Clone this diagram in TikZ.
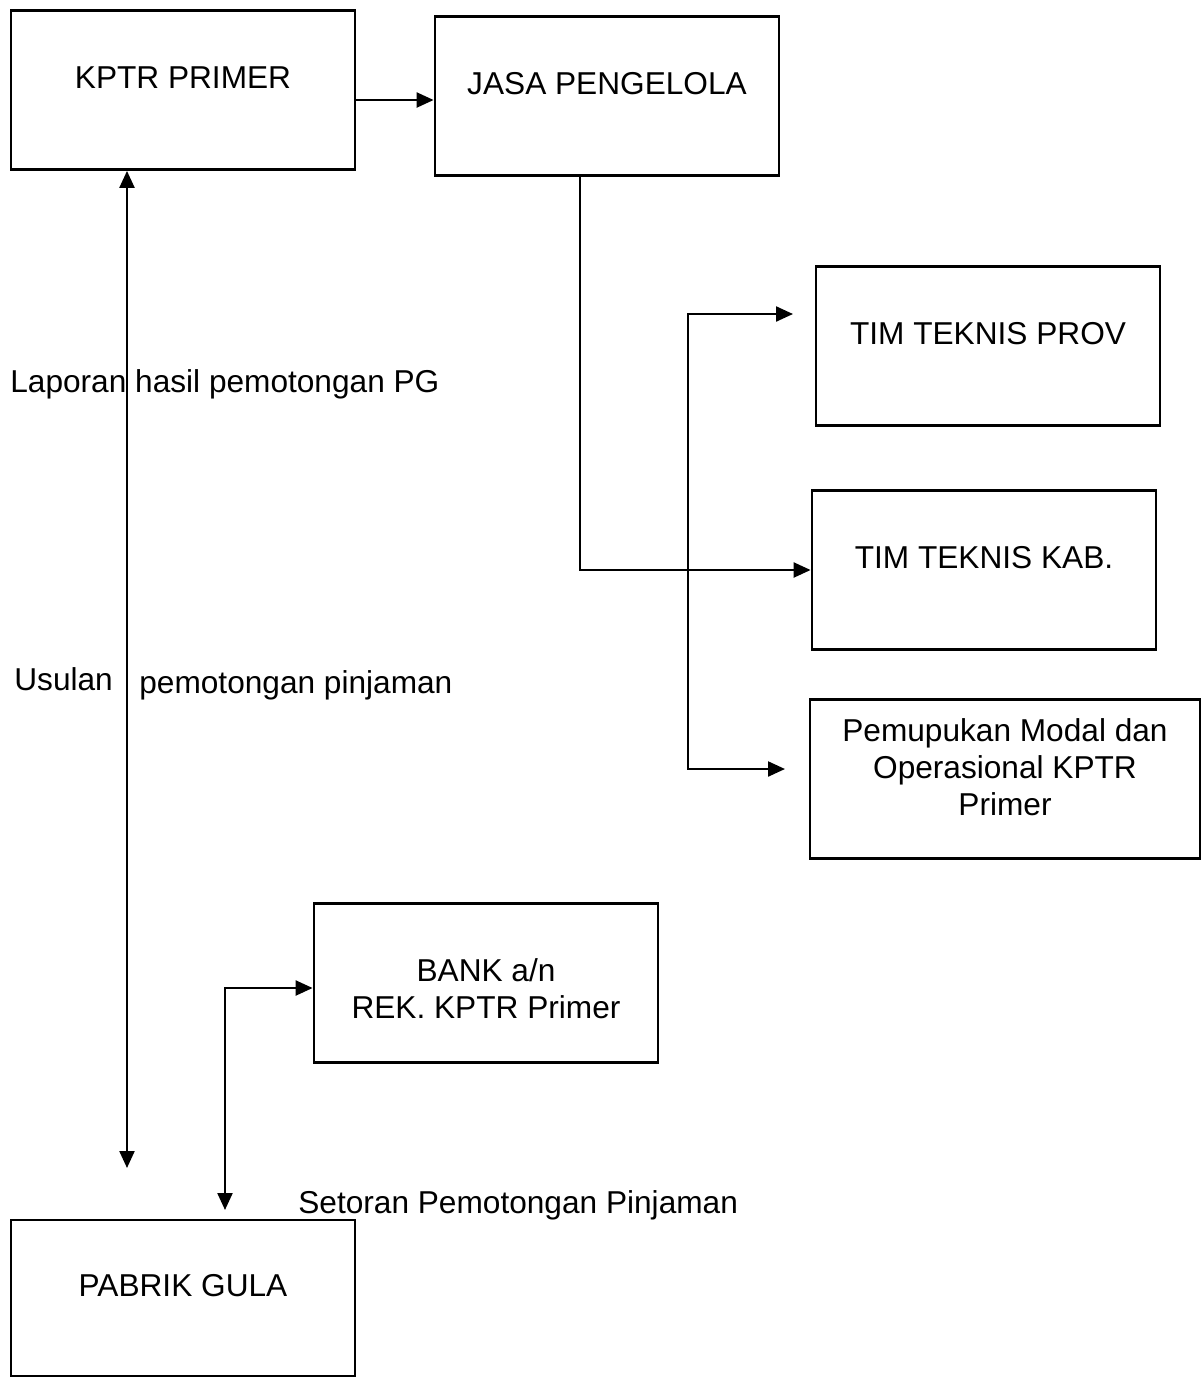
\documentclass[tikz,border=0pt]{standalone}
\usepackage{fontspec}
\setmainfont{Liberation Sans}
\usetikzlibrary{arrows.meta}

\begin{document}
\begin{tikzpicture}[
        x=0.2mm, y=-0.2mm,
        font=\fontsize{18}{21}\selectfont,
        box/.style={draw, line width=1.6pt, minimum width=68.8mm, minimum height=31.8mm},
        boxtext/.style={align=center, yshift=2.4mm},
        note/.style={anchor=base west, inner sep=0pt},
        link/.style={line width=1.3pt, -{Triangle[length=3.4mm, width=3mm]}},
        both/.style={line width=1.3pt, {Triangle[length=3.4mm, width=3mm]}-{Triangle[length=3.4mm, width=3mm]}}
    ]

    \useasboundingbox (0,0) rectangle (1203,1378);

    \node[box, label={[boxtext]center:KPTR PRIMER}] (kptr) at (183,90) {};
    \node[box, label={[boxtext]center:JASA PENGELOLA}] (jasa) at (607,96) {};
    \node[box, label={[boxtext]center:TIM TEKNIS PROV}] (prov) at (988,346) {};
    \node[box, label={[boxtext]center:TIM TEKNIS KAB.}] (kab) at (984,570) {};
    \node[box, minimum width=78mm,
        label={[boxtext]center:{Pemupukan Modal dan\\Operasional KPTR\\Primer}}] (modal) at (1005,779) {};
    \node[box, label={[boxtext, yshift=-3.6mm]center:{BANK a/n\\REK. KPTR Primer}}] (bank) at (486,983) {};
    \node[box, minimum height=31.2mm, label={[boxtext]center:PABRIK GULA}] (pabrik) at (183,1298) {};

    \node[note] (lapor) at (10,392) {Laporan hasil pemotongan PG};
    \node[note] (usul) at (14,690) {Usulan};
    \node[note] (potong) at (139,693) {pemotongan pinjaman};
    \node[note] (setor) at (298,1213) {Setoran Pemotongan Pinjaman};

    \coordinate (pgtip) at (127,1168);
    \coordinate (split) at (688,572);
    \coordinate (provtip) at (793,314);
    \coordinate (modaltip) at (785,769);
    \coordinate (banktip) at (225,1210);

    \draw[link] ([yshift=-2mm]kptr.east) -- ([yshift=-2mm]kptr.east -| jasa.west);
    \draw[link] ([xshift=-5.4mm]jasa.south) |- (kab.west);
    \draw[both] (provtip) -| (split) |- (modaltip);
    \draw[both] (kptr.south -| pgtip) -- (pgtip);
    \draw[both] ([yshift=-1mm]bank.west) -| (banktip);
\end{tikzpicture}
\end{document}
